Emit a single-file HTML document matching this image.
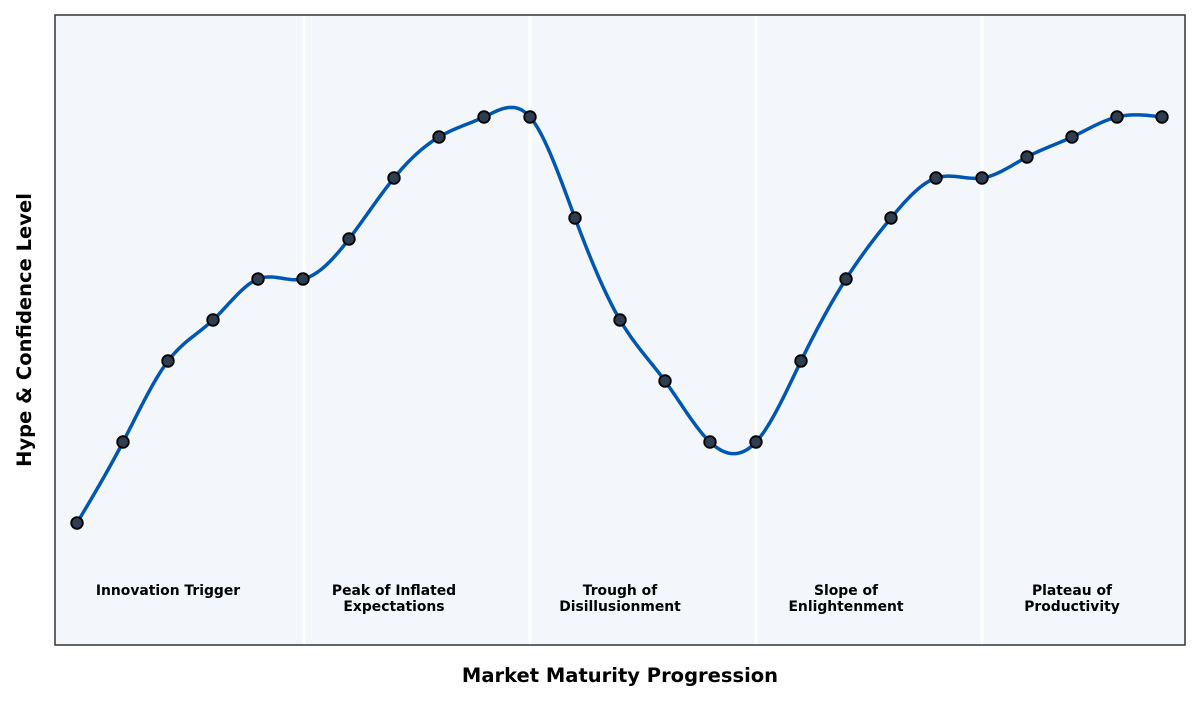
<!DOCTYPE html>
<html><head><meta charset="utf-8"><style>
body{margin:0;background:#fff;width:1200px;height:700px;overflow:hidden}
svg text{font-family:"DejaVu Sans","Liberation Sans",sans-serif;font-weight:bold;fill:#000}
</style></head><body>
<svg width="1200" height="700" xmlns="http://www.w3.org/2000/svg">
<rect x="55" y="15" width="1130" height="630" fill="#f3f6fa"/>
<g stroke="#fff" stroke-width="3">
<line x1="304" y1="15" x2="304" y2="645"/><line x1="530" y1="15" x2="530" y2="645"/>
<line x1="756" y1="15" x2="756" y2="645"/><line x1="982" y1="15" x2="982" y2="645"/>
</g>
<g font-size="13.9" text-anchor="middle">
<text x="168" y="595">Innovation Trigger</text>
<text x="394" y="595">Peak of Inflated</text><text x="394" y="611">Expectations</text>
<text x="620" y="595">Trough of</text><text x="620" y="611">Disillusionment</text>
<text x="846" y="595">Slope of</text><text x="846" y="611">Enlightenment</text>
<text x="1072" y="595">Plateau of</text><text x="1072" y="611">Productivity</text>
</g>
<path id="curve" fill="none" stroke="#0057b3" stroke-width="3.5" stroke-linejoin="round"/>
<g id="pts" fill="#2e3e50" stroke="#000" stroke-width="1.8"></g>
<rect x="55" y="15" width="1130" height="630" fill="none" stroke="#333" stroke-width="1.5"/>
<text x="620" y="682" font-size="19.5" text-anchor="middle">Market Maturity Progression</text>
<text transform="translate(31,330) rotate(-90)" font-size="19.5" text-anchor="middle">Hype &amp; Confidence Level</text>
</svg>
<script>
var X=[77,123,168,213,258,303,349,394,439,484,530,575,620,665,710,756,801,846,891,936,982,1027,1072,1117,1162];
var Y=[523,442,361,320,279,279,239,178,137,117,117,218,320,381,442,442,361,279,218,178,178,157,137,117,117];
var n=X.length,h=[],a=[],l=[1],mu=[0],z=[0],c=new Array(n).fill(0),b=[],d=[];
for(var i=0;i<n-1;i++)h[i]=X[i+1]-X[i];
for(var i=1;i<n-1;i++)a[i]=3/h[i]*(Y[i+1]-Y[i])-3/h[i-1]*(Y[i]-Y[i-1]);
for(var i=1;i<n-1;i++){l[i]=2*(X[i+1]-X[i-1])-h[i-1]*mu[i-1];mu[i]=h[i]/l[i];z[i]=(a[i]-h[i-1]*z[i-1])/l[i];}
for(var j=n-2;j>=0;j--){c[j]=(j==0?0:z[j]-mu[j]*c[j+1]);b[j]=(Y[j+1]-Y[j])/h[j]-h[j]*(c[j+1]+2*c[j])/3;d[j]=(c[j+1]-c[j])/(3*h[j]);}
var p="M"+X[0]+","+Y[0];
for(var i=0;i<n-1;i++)for(var t=1;t<=20;t++){var dx=h[i]*t/20;p+=" L"+(X[i]+dx).toFixed(2)+","+(Y[i]+b[i]*dx+c[i]*dx*dx+d[i]*dx*dx*dx).toFixed(2);}
document.getElementById("curve").setAttribute("d",p);
var g=document.getElementById("pts"),s="";
for(var i=0;i<n;i++)s+='<circle cx="'+X[i]+'" cy="'+Y[i]+'" r="5.8"/>';
g.innerHTML=s;
</script>
</body></html>
